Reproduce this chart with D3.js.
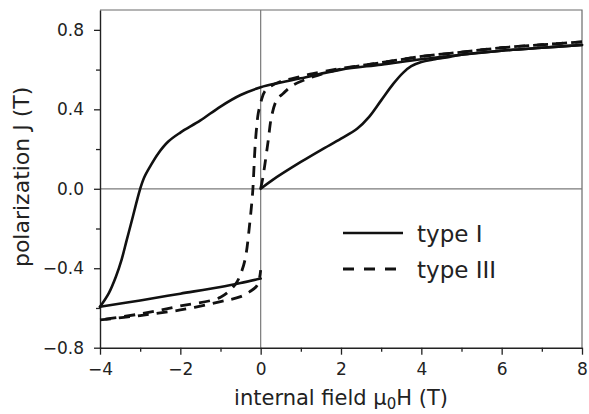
<!DOCTYPE html>
<html>
<head>
<meta charset="utf-8">
<script src="https://cdn.jsdelivr.net/npm/d3@7"></script>
<style>
  html, body { margin: 0; padding: 0; background: #fff; }
  svg { display: block; font-family: "DejaVu Sans", "Liberation Sans", sans-serif; }
</style>
</head>
<body>
<svg id="chart" width="589" height="414"></svg>
<script>
// Field axis (T) and polarization axis (T) tick values
const xMajorTicks = [-4, -2, 0, 2, 4, 6, 8];
const xMinorTicks = [-3, -1, 1, 3, 5, 7];
const yMajorTicks = [-0.8, -0.4, 0.0, 0.4, 0.8];
const yMinorTicks = [-0.6, -0.2, 0.2, 0.6];

// Type I: initial rise from zero, descending branch, return branch
const typeIInitial = [
  [0, 0], [0.3, 0.045], [1, 0.135], [1.5, 0.195], [2, 0.252], [2.4, 0.302],
  [2.7, 0.362], [3.0, 0.445], [3.3, 0.528], [3.55, 0.585], [3.75, 0.617],
  [4.0, 0.638], [4.3, 0.651], [4.7, 0.664], [5, 0.675], [6, 0.695], [7, 0.71], [8, 0.724]
];
const typeIDescending = [
  [8, 0.724], [7, 0.71], [6, 0.695], [5, 0.675], [4, 0.652], [3, 0.625], [2, 0.6],
  [1, 0.556], [0.5, 0.535], [0, 0.511], [-0.5, 0.472], [-1, 0.414], [-1.5, 0.344],
  [-2, 0.283], [-2.3, 0.238], [-2.55, 0.178], [-2.75, 0.113], [-2.9, 0.057],
  [-3.0, 0.0], [-3.1, -0.075], [-3.22, -0.17], [-3.34, -0.262], [-3.46, -0.355],
  [-3.6, -0.44], [-3.78, -0.525], [-4, -0.594]
];
const typeIReturn = [
  [-4, -0.594], [-3, -0.562], [-2, -0.528], [-1, -0.494], [-0.5, -0.474], [0, -0.452]
];

// Type III: initial rise from zero, descending branch, return branch
const typeIIIInitial = [
  [0, 0], [0.05, 0.05], [0.11, 0.13], [0.19, 0.246], [0.27, 0.363], [0.4, 0.447],
  [0.56, 0.48], [0.81, 0.522], [1.31, 0.564], [2, 0.603], [3, 0.635], [4, 0.666],
  [5, 0.688], [6, 0.71], [7, 0.725], [8, 0.74]
];
const typeIIIDescending = [
  [8, 0.74], [7, 0.725], [6, 0.71], [5, 0.688], [4, 0.666], [3, 0.635], [2, 0.606],
  [1.3, 0.58], [0.81, 0.556], [0.48, 0.539], [0.23, 0.514], [0.1, 0.49], [0.02, 0.447],
  [-0.06, 0.38], [-0.1, 0.31], [-0.14, 0.21], [-0.18, 0.05], [-0.2, -0.02],
  [-0.27, -0.17], [-0.39, -0.358], [-0.52, -0.44], [-0.64, -0.484], [-1, -0.546],
  [-2, -0.59], [-3, -0.63], [-4, -0.66]
];
const typeIIIReturn = [
  [-4, -0.66], [-3, -0.638], [-2, -0.61], [-1, -0.568], [-0.5, -0.543],
  [-0.27, -0.518], [-0.1, -0.49], [-0.03, -0.45], [0, -0.41]
];

const legendLabels = ["type I", "type III"];

const svg = d3.select("#chart");
const plotLeft = 100, plotRight = 582, plotTop = 10, plotBottom = 347.7;

const x = d3.scaleLinear().domain([-4, 8]).range([plotLeft, plotRight]);
const y = d3.scaleLinear().domain([-0.8, 0.9]).range([plotBottom, plotTop]);

// frame (top and right)
svg.append("path")
  .attr("d", `M${plotLeft},${plotTop}H${plotRight}V${plotBottom}`)
  .attr("fill", "none").attr("stroke", "#6a6a6a").attr("stroke-width", 1.2);

// zero lines
svg.append("line")
  .attr("x1", x(0)).attr("x2", x(0)).attr("y1", plotTop).attr("y2", plotBottom)
  .attr("stroke", "#7a7a7a").attr("stroke-width", 1.2);
svg.append("line")
  .attr("x1", plotLeft).attr("x2", plotRight).attr("y1", y(0)).attr("y2", y(0))
  .attr("stroke", "#7a7a7a").attr("stroke-width", 1.2);

// axes
const fmtY = d3.format(".1f");
const fmtX = d3.format("d");

svg.append("g").attr("transform", `translate(0,${plotBottom})`)
  .call(d3.axisBottom(x).tickValues(xMajorTicks).tickSize(7).tickSizeOuter(0)
    .tickPadding(8).tickFormat(fmtX));
svg.append("g").attr("transform", `translate(0,${plotBottom})`)
  .call(d3.axisBottom(x).tickValues(xMinorTicks).tickSize(4).tickSizeOuter(0).tickFormat(""))
  .select(".domain").remove();

svg.append("g").attr("transform", `translate(${plotLeft},0)`)
  .call(d3.axisLeft(y).tickValues(yMajorTicks).tickSize(6).tickSizeOuter(0)
    .tickPadding(10).tickFormat(fmtY));
svg.append("g").attr("transform", `translate(${plotLeft},0)`)
  .call(d3.axisLeft(y).tickValues(yMinorTicks).tickSize(4).tickSizeOuter(0).tickFormat(""))
  .select(".domain").remove();

svg.selectAll(".domain").attr("stroke", "#222").attr("stroke-width", 1.4);
svg.selectAll(".tick line").attr("stroke", "#222").attr("stroke-width", 1.3);
svg.selectAll(".tick text").attr("font-size", 17).attr("fill", "#222")
  .attr("font-family", "DejaVu Sans, sans-serif");

// axis titles
const xTitle = svg.append("text")
  .attr("x", (plotLeft + plotRight) / 2).attr("y", 405)
  .attr("text-anchor", "middle").attr("font-size", 21).attr("fill", "#222");
xTitle.append("tspan").text("internal field μ");
xTitle.append("tspan").text("0").attr("font-size", 15).attr("dy", 4);
xTitle.append("tspan").text("H (T)").attr("dy", -4);

svg.append("text")
  .attr("transform", `translate(29,${(plotTop + plotBottom) / 2 - 2}) rotate(-90)`)
  .attr("text-anchor", "middle").attr("font-size", 22).attr("fill", "#222")
  .text("polarization J (T)");

// curves
const line = d3.line()
  .x(d => x(d[0])).y(d => y(d[1]))
  .curve(d3.curveCatmullRom.alpha(0.5));

const solidStyle = sel => sel.attr("fill", "none").attr("stroke", "#111")
  .attr("stroke-width", 2.6).attr("stroke-linejoin", "round").attr("stroke-linecap", "round");
const dashStyle = sel => sel.attr("fill", "none").attr("stroke", "#111")
  .attr("stroke-width", 2.8).attr("stroke-dasharray", "11,8");

[typeIIIInitial, typeIIIDescending, typeIIIReturn].forEach(d =>
  svg.append("path").attr("d", line(d)).call(dashStyle));
[typeIInitial, typeIDescending, typeIReturn].forEach(d =>
  svg.append("path").attr("d", line(d)).call(solidStyle));

// legend
const legend = svg.append("g");
legendLabels.forEach((label, i) => {
  const ly = 233 + i * 36;
  const seg = legend.append("line")
    .attr("x1", 343).attr("x2", 403).attr("y1", ly).attr("y2", ly);
  if (i === 0) seg.call(solidStyle).attr("stroke-linecap", "butt");
  else seg.call(dashStyle).attr("stroke-dasharray", "11,10");
  legend.append("text")
    .attr("x", 417).attr("y", ly + 9)
    .attr("font-size", 23).attr("fill", "#222")
    .text(label);
});
</script>
</body>
</html>
